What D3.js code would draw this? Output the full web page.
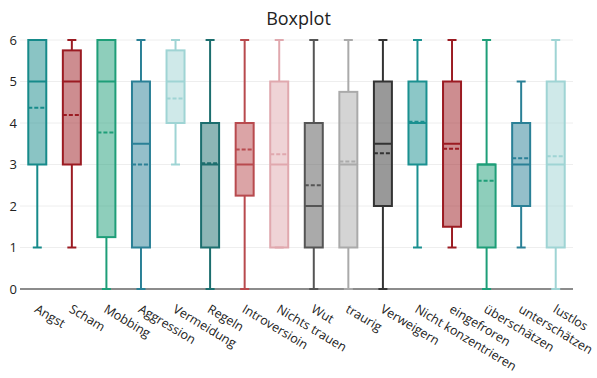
<!DOCTYPE html>
<html>
<head>
<meta charset="utf-8">
<script src="https://cdn.jsdelivr.net/npm/d3@7"></script>
<style>
  body { margin: 0; background: #fff; }
  text { font-family: "Open Sans", sans-serif; }
</style>
</head>
<body>
<svg id="chart"></svg>
<script>
const categories = ["Angst", "Scham", "Mobbing", "Aggression", "Vermeidung", "Regeln", "Introversioin",
    "Nichts trauen", "Wut", "traurig", "Verweigern", "Nicht konzentrieren", "eingefroren",
    "überschätzen", "unterschätzen", "lustlos"];
const lowerFence = [1, 1, 0, 0, 3, 0, 0, 1, 0, 0, 0, 1, 1, 0, 1, 0];
const q1 = [3, 3, 1.25, 1, 4, 1, 2.25, 1, 1, 1, 2, 3, 1.5, 1, 2, 1];
const median = [5, 5, 5, 3.5, 5, 3, 3, 3, 2, 3, 3.5, 4, 3.5, 3, 3, 3];
const q3 = [6, 5.75, 6, 5, 5.75, 4, 4, 5, 4, 4.75, 5, 5, 5, 3, 4, 5];
const upperFence = [6, 6, 6, 6, 6, 6, 6, 6, 6, 6, 6, 6, 6, 6, 5, 6];
const means = [4.37, 4.19, 3.77, 3.0, 4.59, 3.03, 3.36, 3.25, 2.5, 3.07, 3.27, 4.03, 3.38, 2.61, 3.15, 3.2];
const colors = ["#168a8a", "#9b1b22", "#1e9e78", "#2a8096", "#9fd4d4", "#1c6e6e", "#b84a4e", "#e0a8ae",
    "#555555", "#aaaaaa", "#333333", "#1a9090", "#9b1b22", "#1e9e78", "#2a8096", "#9fd4d4"];
const yTicks = [0, 1, 2, 3, 4, 5, 6];

const width = 597, height = 378;
const margin = { top: 40, right: 24, bottom: 89, left: 20 };

const svg = d3.select("#chart").attr("width", width).attr("height", height);

const x = d3.scaleBand()
    .domain(categories)
    .range([margin.left, width - margin.right]);
const y = d3.scaleLinear()
    .domain([0, 6])
    .range([height - margin.bottom, margin.top]);

const boxW = 18, capW = 9;

// grid
svg.append("g")
    .selectAll("line")
    .data(yTicks.filter(d => d > 0))
    .join("line")
    .attr("x1", margin.left).attr("x2", width - margin.right)
    .attr("y1", d => y(d)).attr("y2", d => y(d))
    .attr("stroke", "#eeeeee").attr("stroke-width", 1);

// y axis labels
const yAxis = svg.append("g")
    .attr("transform", `translate(${margin.left}, 0)`)
    .call(d3.axisLeft(y).tickValues(yTicks).tickSize(0).tickPadding(3).tickFormat(d3.format("d")));
yAxis.select(".domain").remove();
yAxis.selectAll("text").style("font-size", "13px").attr("fill", "#222");

// zero line
svg.append("line")
    .attr("x1", margin.left).attr("x2", width - margin.right)
    .attr("y1", y(0)).attr("y2", y(0))
    .attr("stroke", "#666").attr("stroke-width", 1.5);

const rows = categories.map((c, i) => ({
    cat: c, lo: lowerFence[i], q1: q1[i], med: median[i], q3: q3[i], hi: upperFence[i],
    mean: means[i], color: colors[i]
}));

const boxes = svg.append("g")
    .selectAll("g")
    .data(rows)
    .join("g")
    .attr("transform", d => `translate(${x(d.cat) + x.bandwidth() / 2}, 0)`);

// whiskers
boxes.append("line")
    .attr("y1", d => y(d.lo)).attr("y2", d => y(d.q1))
    .attr("stroke", d => d.color).attr("stroke-width", 2);
boxes.append("line")
    .attr("y1", d => y(d.q3)).attr("y2", d => y(d.hi))
    .attr("stroke", d => d.color).attr("stroke-width", 2);
boxes.append("line")
    .attr("x1", -capW / 2).attr("x2", capW / 2)
    .attr("y1", d => y(d.lo)).attr("y2", d => y(d.lo))
    .attr("stroke", d => d.color).attr("stroke-width", 2);
boxes.append("line")
    .attr("x1", -capW / 2).attr("x2", capW / 2)
    .attr("y1", d => y(d.hi)).attr("y2", d => y(d.hi))
    .attr("stroke", d => d.color).attr("stroke-width", 2);

// box
boxes.append("rect")
    .attr("x", -boxW / 2).attr("width", boxW)
    .attr("y", d => y(d.q3))
    .attr("height", d => y(d.q1) - y(d.q3))
    .attr("fill", d => d.color).attr("fill-opacity", 0.5)
    .attr("stroke", d => d.color).attr("stroke-width", 2);

// median
boxes.append("line")
    .attr("x1", -boxW / 2).attr("x2", boxW / 2)
    .attr("y1", d => y(d.med)).attr("y2", d => y(d.med))
    .attr("stroke", d => d.color).attr("stroke-width", 2);

// mean
boxes.append("line")
    .attr("x1", -boxW / 2).attr("x2", boxW / 2)
    .attr("y1", d => y(d.mean)).attr("y2", d => y(d.mean))
    .attr("stroke", d => d.color).attr("stroke-width", 2)
    .attr("stroke-dasharray", "4,2");

// x labels
svg.append("g")
    .selectAll("text")
    .data(categories)
    .join("text")
    .attr("transform", d => `translate(${x(d) + x.bandwidth() / 2 + 1}, ${y(0) + 15}) rotate(31)`)
    .attr("text-anchor", "start")
    .attr("dy", "0.7em")
    .style("font-size", "12.5px")
    .attr("fill", "#222")
    .text(d => d);

// title
svg.append("text")
    .attr("x", width / 2)
    .attr("y", 25)
    .attr("text-anchor", "middle")
    .style("font-size", "18px")
    .attr("fill", "#222")
    .text("Boxplot");
</script>
</body>
</html>
